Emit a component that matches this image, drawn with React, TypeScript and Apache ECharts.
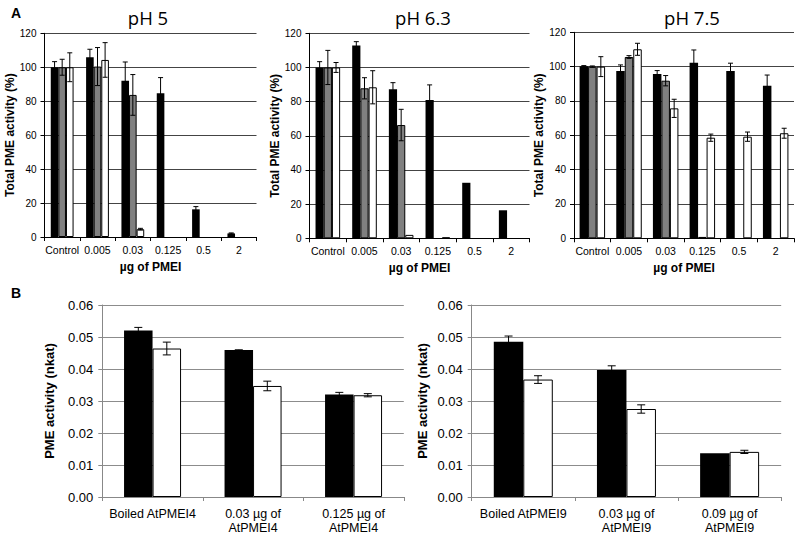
import React, { useEffect, useRef } from "react";
import * as echarts from "echarts";

const categoriesA = ["Control", "0.005", "0.03", "0.125", "0.5", "2"];
const titlesA = ["pH 5", "pH 6.3", "pH 7.5"];

const pH5Black = [100, 105.9, 92.1, 84.7, 16.3, 2.1];
const pH5BlackErr = [3.3, 4.7, 11, 9.2, 1.6, 0.3];
const pH5Gray = [100, 100.4, 83.7, 0, 0, 0];
const pH5GrayErr = [4.7, 11.2, 12, 0, 0, 0];
const pH5White = [100, 104.3, 4.6, 0, 0, 0];
const pH5WhiteErr = [8.5, 10.2, 0.5, 0, 0, 0];

const pH63Black = [100, 112.8, 87.2, 81, 32.5, 16.4];
const pH63BlackErr = [3.4, 2.3, 3.9, 8.8, 0, 0];
const pH63Gray = [100, 87.8, 66.3, 0, 0, 0];
const pH63GrayErr = [10, 6.2, 9.2, 0, 0, 0];
const pH63White = [100, 88.4, 2, 0.5, 0, 0];
const pH63WhiteErr = [2.9, 9.7, 0, 0, 0, 0];

const pH75Black = [100.2, 97.5, 95.7, 102.3, 97.5, 88.9];
const pH75BlackErr = [0.4, 3.5, 2, 7.4, 4.5, 6.2];
const pH75Gray = [100, 105.6, 91.8, 0.8, 0, 0];
const pH75GrayErr = [0.4, 0.8, 3, 0, 0, 0];
const pH75White = [100, 110.1, 75.7, 58.6, 59.2, 61.2];
const pH75WhiteErr = [5.8, 3.5, 5.3, 2.1, 2.7, 2.9];

const categoriesB4 = ["Boiled AtPMEI4", "0.03 µg of\nAtPMEI4", "0.125 µg of\nAtPMEI4"];
const b4Black = [0.052, 0.0459, 0.032];
const b4BlackErr = [0.001, 0.0001, 0.0007];
const b4White = [0.0464, 0.0347, 0.0318];
const b4WhiteErr = [0.002, 0.0015, 0.0005];

const categoriesB9 = ["Boiled AtPMEI9", "0.03 µg of\nAtPMEI9", "0.09 µg of\nAtPMEI9"];
const b9Black = [0.0485, 0.0397, 0.0137];
const b9BlackErr = [0.0018, 0.0013, 0];
const b9White = [0.0367, 0.0275, 0.0141];
const b9WhiteErr = [0.0012, 0.0013, 0.0005];

const FONT = "'Liberation Sans', Arial, sans-serif";

function errRender(n: number, bw: number, cap: number) {
  return (params: any, api: any) => {
    const x = api.value(0);
    const y = api.value(1);
    const e = api.value(2);
    const s = api.value(3);
    const p = api.coord([x, y]);
    const top = api.coord([x, y + e]);
    const bot = api.coord([x, Math.max(0, y - e)]);
    const cx = p[0] + (s - (n - 1) / 2) * bw;
    const st = { stroke: "#000", lineWidth: 1 };
    return {
      type: "group",
      children: [
        { type: "line", shape: { x1: cx, y1: top[1], x2: cx, y2: bot[1] }, style: st },
        { type: "line", shape: { x1: cx - cap, y1: top[1], x2: cx + cap, y2: top[1] }, style: st },
        { type: "line", shape: { x1: cx - cap, y1: bot[1], x2: cx + cap, y2: bot[1] }, style: st },
      ],
    };
  };
}

function errData(vals: number[], errs: number[], s: number) {
  const out: number[][] = [];
  vals.forEach((v, i) => {
    if (errs[i] > 0) out.push([i, v, errs[i], s]);
  });
  return out;
}

function barData(vals: number[]) {
  return vals.map((v) => (v === 0 ? "-" : v));
}

export default function App() {
  const ref = useRef<HTMLDivElement>(null);
  useEffect(() => {
    if (!ref.current) return;
    const chart = echarts.init(ref.current, undefined, { renderer: "svg" });

    const gridsA = [
      { left: 44.5, top: 33.3, width: 212, height: 203.7 },
      { left: 309.5, top: 33.3, width: 220, height: 205 },
      { left: 574, top: 32.3, width: 220, height: 206 },
    ];
    const gridsB = [
      { left: 102.3, top: 305, width: 301.5, height: 195.3 },
      { left: 471.7, top: 305, width: 309.5, height: 195 },
    ];
    const grids = [...gridsA, ...gridsB].map((g) => ({ ...g, containLabel: false }));

    const nameGapsA = [22, 25, 24];
    const xAxes: any[] = [];
    const yAxes: any[] = [];
    for (let i = 0; i < 3; i++) {
      xAxes.push({
        type: "category",
        gridIndex: i,
        data: categoriesA,
        axisLine: { lineStyle: { color: "#000", width: 1 } },
        axisTick: { show: true, length: 4, lineStyle: { color: "#000" } },
        axisLabel: { fontSize: 10.5, color: "#000", fontFamily: FONT, margin: 7, interval: 0 },
        name: "µg of PMEI",
        nameLocation: "middle",
        nameGap: 24,
        nameTextStyle: { fontSize: 12, fontWeight: "bold", color: "#000", fontFamily: FONT },
      });
      yAxes.push({
        type: "value",
        gridIndex: i,
        min: 0,
        max: 120,
        interval: 20,
        axisLine: { show: true, lineStyle: { color: "#000", width: 1 } },
        axisTick: { show: true, length: 4, lineStyle: { color: "#000" } },
        splitLine: { lineStyle: { color: "#444", width: 1 } },
        axisLabel: { fontSize: 10, color: "#000", fontFamily: FONT, margin: 8 },
        name: "Total PME activity (%)",
        nameLocation: "middle",
        nameGap: nameGapsA[i],
        nameTextStyle: { fontSize: 12, fontWeight: "bold", color: "#000", fontFamily: FONT },
      });
    }
    const catsB = [categoriesB4, categoriesB9];
    for (let j = 0; j < 2; j++) {
      xAxes.push({
        type: "category",
        gridIndex: 3 + j,
        data: catsB[j],
        axisLine: { lineStyle: { color: "#888", width: 1 } },
        axisTick: { show: true, length: 4, lineStyle: { color: "#888" } },
        axisLabel: { fontSize: 12.5, color: "#000", fontFamily: FONT, margin: 10, lineHeight: 14, interval: 0 },
      });
      yAxes.push({
        type: "value",
        gridIndex: 3 + j,
        min: 0,
        max: 0.06,
        interval: 0.01,
        axisLine: { show: true, lineStyle: { color: "#888", width: 1 } },
        axisTick: { show: true, length: 4, lineStyle: { color: "#888" } },
        splitLine: { lineStyle: { color: "#8c8c8c", width: 1 } },
        axisLabel: {
          fontSize: 13,
          color: "#000",
          fontFamily: FONT,
          margin: 9,
          formatter: (v: number) => v.toFixed(2),
        },
        name: "PME activity (nkat)",
        nameLocation: "middle",
        nameGap: j === 0 ? 46 : 43,
        nameTextStyle: { fontSize: 13, fontWeight: "bold", color: "#000", fontFamily: FONT },
      });
    }

    const series: any[] = [];
    const panelsA = [
      [pH5Black, pH5BlackErr, pH5Gray, pH5GrayErr, pH5White, pH5WhiteErr],
      [pH63Black, pH63BlackErr, pH63Gray, pH63GrayErr, pH63White, pH63WhiteErr],
      [pH75Black, pH75BlackErr, pH75Gray, pH75GrayErr, pH75White, pH75WhiteErr],
    ];
    const bwA = [7.6, 8.2, 8.5];
    const colorsA = ["#000", "#808080", "#fff"];
    panelsA.forEach((p, i) => {
      for (let s = 0; s < 3; s++) {
        series.push({
          type: "bar",
          xAxisIndex: i,
          yAxisIndex: i,
          data: barData(p[s * 2]),
          barWidth: bwA[i],
          barGap: "0%",
          itemStyle: { color: colorsA[s], borderColor: "#000", borderWidth: s === 0 ? 0 : 1 },
        });
      }
      const ed: number[][] = [];
      for (let s = 0; s < 3; s++) ed.push(...errData(p[s * 2], p[s * 2 + 1], s));
      series.push({
        type: "custom",
        xAxisIndex: i,
        yAxisIndex: i,
        z: 5,
        renderItem: errRender(3, bwA[i], 2.5),
        encode: { x: 0, y: 1 },
        data: ed,
      });
    });

    const panelsB = [
      [b4Black, b4BlackErr, b4White, b4WhiteErr],
      [b9Black, b9BlackErr, b9White, b9WhiteErr],
    ];
    const bwB = [28.5, 29.5];
    panelsB.forEach((p, j) => {
      const idx = 3 + j;
      for (let s = 0; s < 2; s++) {
        series.push({
          type: "bar",
          xAxisIndex: idx,
          yAxisIndex: idx,
          data: p[s * 2],
          barWidth: bwB[j],
          barGap: "0%",
          itemStyle: { color: s === 0 ? "#000" : "#fff", borderColor: "#000", borderWidth: s === 0 ? 0 : 1 },
        });
      }
      const ed: number[][] = [];
      for (let s = 0; s < 2; s++) ed.push(...errData(p[s * 2], p[s * 2 + 1], s));
      series.push({
        type: "custom",
        xAxisIndex: idx,
        yAxisIndex: idx,
        z: 5,
        renderItem: errRender(2, bwB[j], 4),
        encode: { x: 0, y: 1 },
        data: ed,
      });
    });

    const titleX = [148, 423, 692];
    const graphic: any[] = titlesA.map((t, i) => ({
      type: "text",
      x: titleX[i],
      y: 17,
      style: {
        text: t,
        textAlign: "center",
        textVerticalAlign: "middle",
        fontSize: 18.5,
        fontFamily: "'Open Sans', 'Noto Sans', sans-serif",
        fill: "#000",
      },
    }));
    graphic.push(
      {
        type: "text",
        x: 11,
        y: 13,
        style: { text: "A", textVerticalAlign: "middle", fontSize: 14, fontWeight: "bold", fontFamily: FONT, fill: "#000" },
      },
      {
        type: "text",
        x: 11,
        y: 293,
        style: { text: "B", textVerticalAlign: "middle", fontSize: 14, fontWeight: "bold", fontFamily: FONT, fill: "#000" },
      }
    );

    chart.setOption({
      animation: false,
      backgroundColor: "#fff",
      grid: grids,
      xAxis: xAxes,
      yAxis: yAxes,
      series,
      graphic,
    });
    return () => chart.dispose();
  }, []);
  return (
    <div
      ref={ref}
      style={{ position: "absolute", left: 0, top: 0, width: 797, height: 535 }}
    />
  );
}
